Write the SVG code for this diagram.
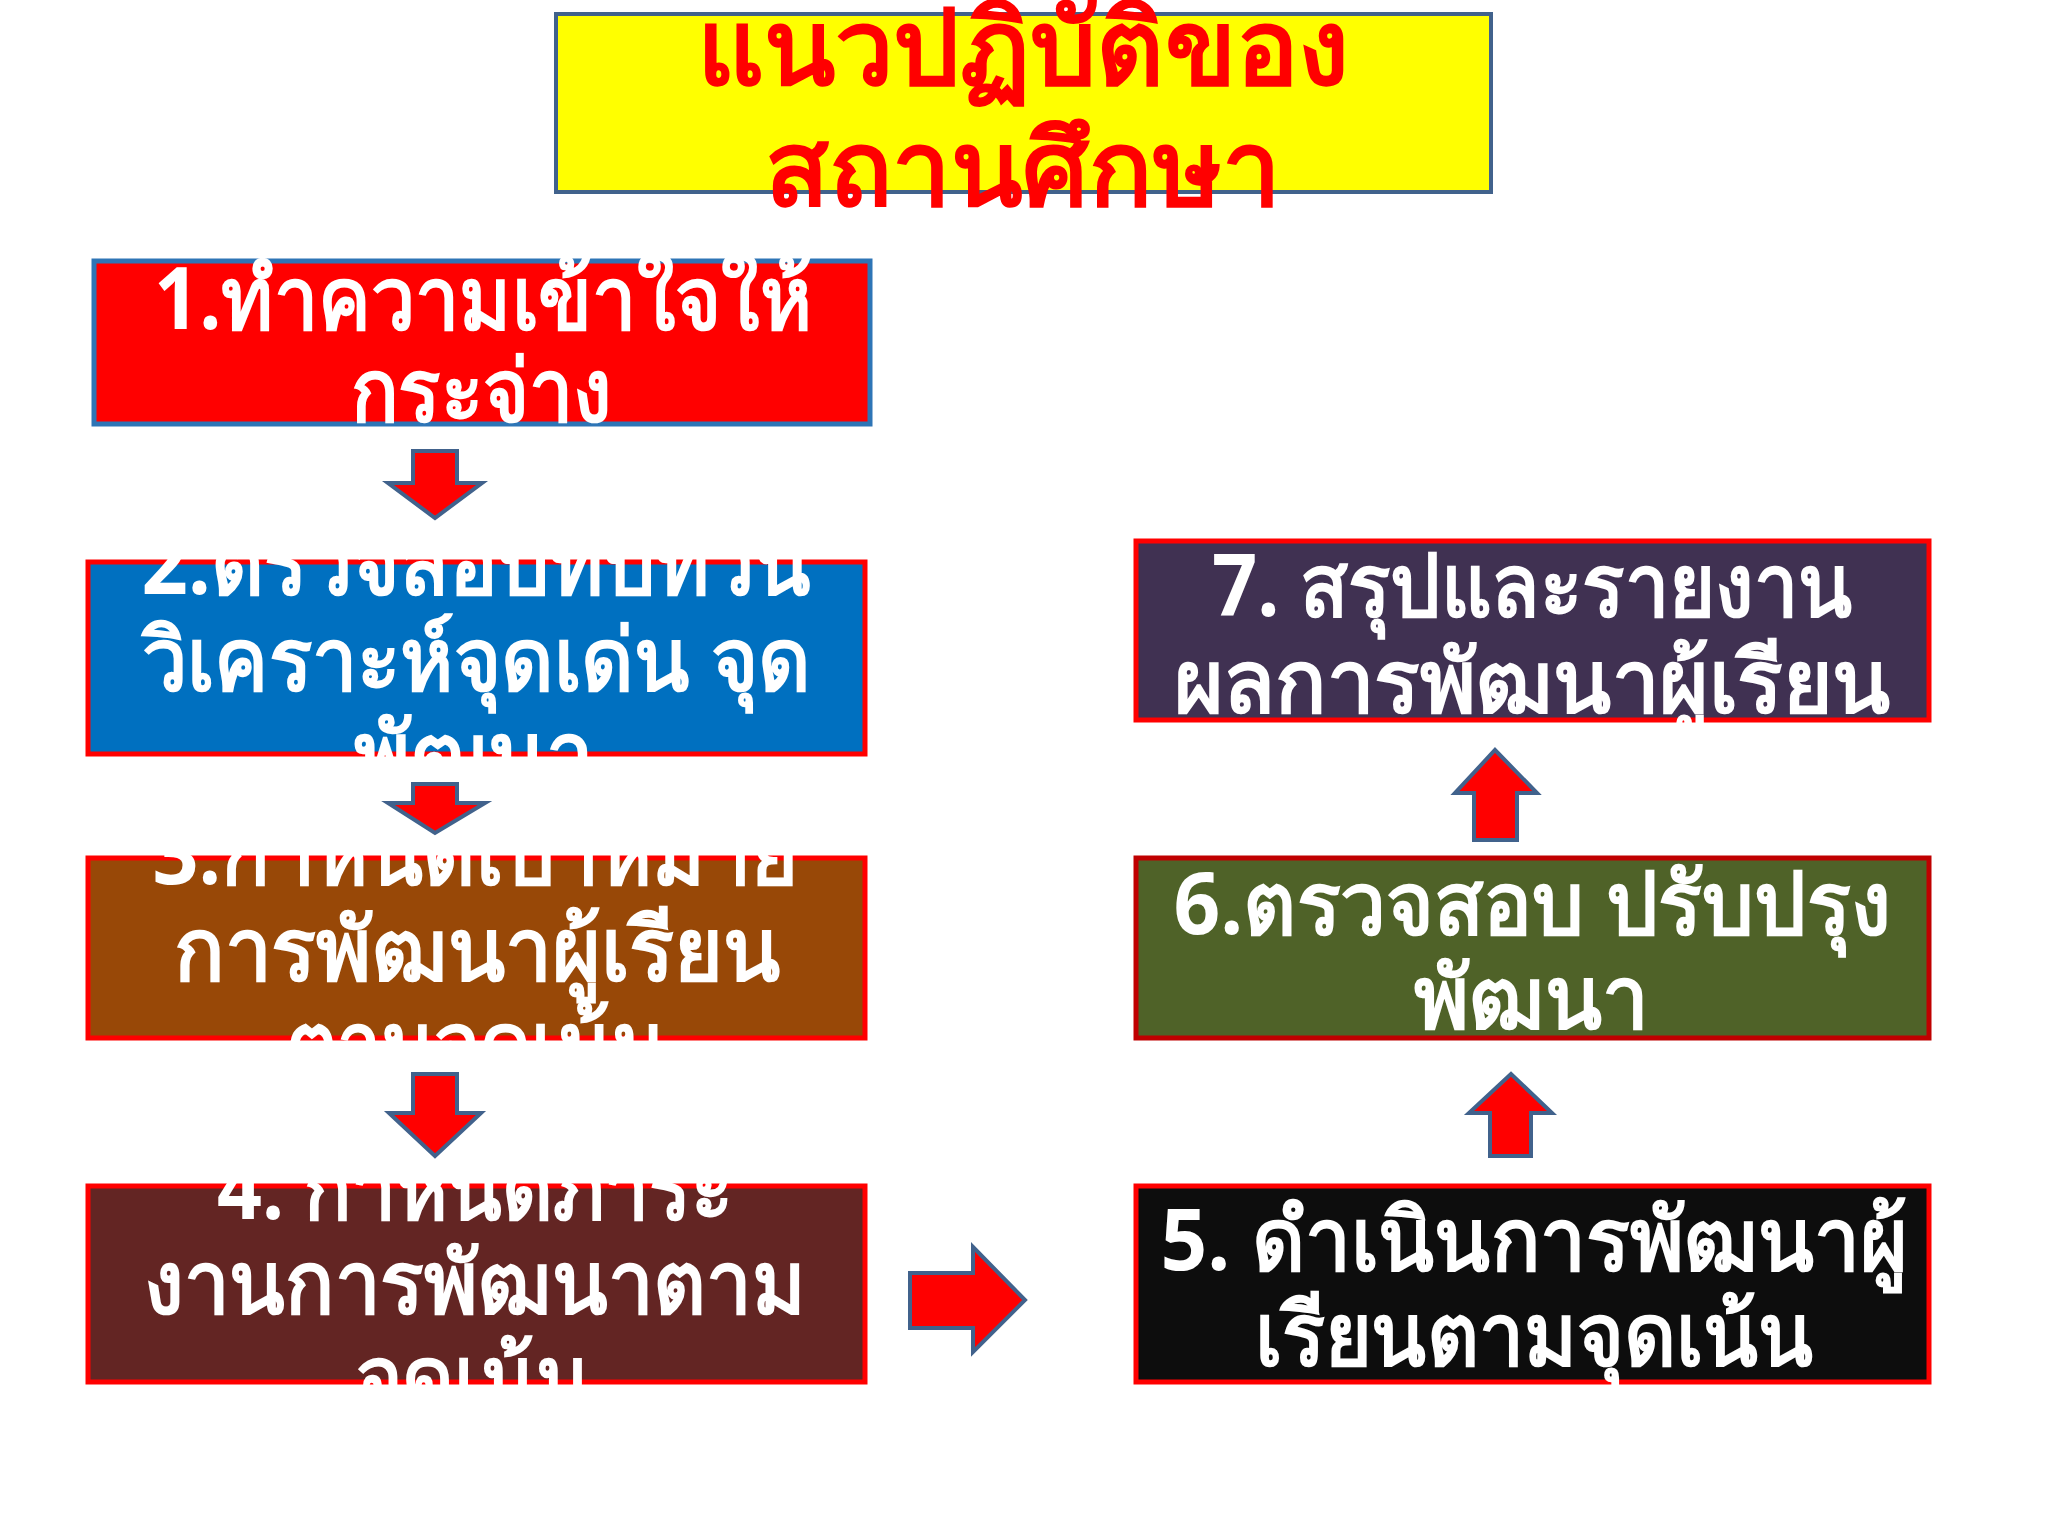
<svg xmlns="http://www.w3.org/2000/svg" width="2048" height="1536" viewBox="0 0 2048 1536">
<style>
  .t { font-family: "Noto Sans", "DejaVu Sans", sans-serif; font-weight: bold; font-size: 86px; fill: #ffffff; text-anchor: middle; }
  .title { font-family: "Noto Sans", "DejaVu Sans", sans-serif; font-weight: bold; font-size: 104px; fill: #ff0000; text-anchor: middle; }
  .arrow { fill: #ff0000; stroke: #41628c; stroke-width: 4; stroke-linejoin: miter; }
  .box { stroke-width: 5; }
</style>
<rect width="2048" height="1536" fill="#ffffff"/>
<g id="title">
  <rect x="556" y="14" width="935" height="178" fill="#ffff00" stroke="#41628c" stroke-width="4"/>
  <text class="title" x="1023" y="84" textLength="653" lengthAdjust="spacingAndGlyphs">แนวปฏิบัติของ</text>
  <text class="title" x="1023" y="205" textLength="516" lengthAdjust="spacingAndGlyphs">สถานศึกษา</text>
</g>
<g id="node1">
  <rect class="box" x="94" y="261" width="776" height="163" fill="#ff0000" stroke="#2e75b6"/>
  <text class="t" x="483" y="329" textLength="658" lengthAdjust="spacingAndGlyphs">1.ทำความเข้าใจให้</text>
  <text class="t" x="481" y="421" textLength="261" lengthAdjust="spacingAndGlyphs">กระจ่าง</text>
</g>
<g id="node2">
  <rect class="box" x="88" y="562" width="777" height="192" fill="#0070c0" stroke="#ff0000"/>
  <text class="t" x="476" y="594" textLength="669" lengthAdjust="spacingAndGlyphs">2.ตรวจสอบทบทวน</text>
  <text class="t" x="476" y="690" textLength="669" lengthAdjust="spacingAndGlyphs">วิเคราะห์จุดเด่น จุด</text>
  <text class="t" x="474" y="784" textLength="240" lengthAdjust="spacingAndGlyphs">พัฒนา</text>
</g>
<g id="node3">
  <rect class="box" x="88" y="858" width="777" height="180" fill="#984807" stroke="#ff0000"/>
  <text class="t" x="475" y="884" textLength="645" lengthAdjust="spacingAndGlyphs">3.กำหนดเป้าหมาย</text>
  <text class="t" x="477" y="980" textLength="606" lengthAdjust="spacingAndGlyphs">การพัฒนาผู้เรียน</text>
  <text class="t" x="476" y="1074" textLength="381" lengthAdjust="spacingAndGlyphs">ตามจุดเน้น</text>
</g>
<g id="node4">
  <rect class="box" x="88" y="1186" width="777" height="196" fill="#632523" stroke="#ff0000"/>
  <text class="t" x="475" y="1219" textLength="516" lengthAdjust="spacingAndGlyphs">4. กำหนดภาระ</text>
  <text class="t" x="475" y="1313" textLength="662" lengthAdjust="spacingAndGlyphs">งานการพัฒนาตาม</text>
  <text class="t" x="473" y="1408" textLength="235" lengthAdjust="spacingAndGlyphs">จุดเน้น</text>
</g>
<g id="node5">
  <rect class="box" x="1136" y="1186" width="793" height="196" fill="#0d0d0d" stroke="#ff0000"/>
  <text class="t" x="1534" y="1270" textLength="747" lengthAdjust="spacingAndGlyphs">5. ดำเนินการพัฒนาผู้</text>
  <text class="t" x="1534" y="1365" textLength="559" lengthAdjust="spacingAndGlyphs">เรียนตามจุดเน้น</text>
</g>
<g id="node6">
  <rect class="box" x="1136" y="858" width="793" height="180" fill="#4f6228" stroke="#c00000"/>
  <text class="t" x="1532" y="934" textLength="717" lengthAdjust="spacingAndGlyphs">6.ตรวจสอบ ปรับปรุง</text>
  <text class="t" x="1531" y="1028" textLength="235" lengthAdjust="spacingAndGlyphs">พัฒนา</text>
</g>
<g id="node7">
  <rect class="box" x="1136" y="541" width="793" height="179" fill="#403152" stroke="#ff0000"/>
  <text class="t" x="1532" y="616" textLength="640" lengthAdjust="spacingAndGlyphs">7. สรุปและรายงาน</text>
  <text class="t" x="1532" y="712" textLength="717" lengthAdjust="spacingAndGlyphs">ผลการพัฒนาผู้เรียน</text>
</g>
<g id="connectors">
  <polygon class="arrow" points="413,451 457,451 457,483 482,483 435,518 388,483 413,483"/>
  <polygon class="arrow" points="413,784 457,784 457,803 485,803 435,833 388,803 413,803"/>
  <polygon class="arrow" points="413,1074 457,1074 457,1113 481,1113 435,1156 389,1113 413,1113"/>
  <polygon class="arrow" points="910,1273 973,1273 973,1247 1025,1300 973,1352 973,1328 910,1328"/>
  <polygon class="arrow" points="1490,1156 1531,1156 1531,1113 1552,1113 1511,1074 1469,1113 1490,1113"/>
  <polygon class="arrow" points="1474,840 1517,840 1517,793 1537,793 1495,750 1455,793 1474,793"/>
</g>
</svg>
